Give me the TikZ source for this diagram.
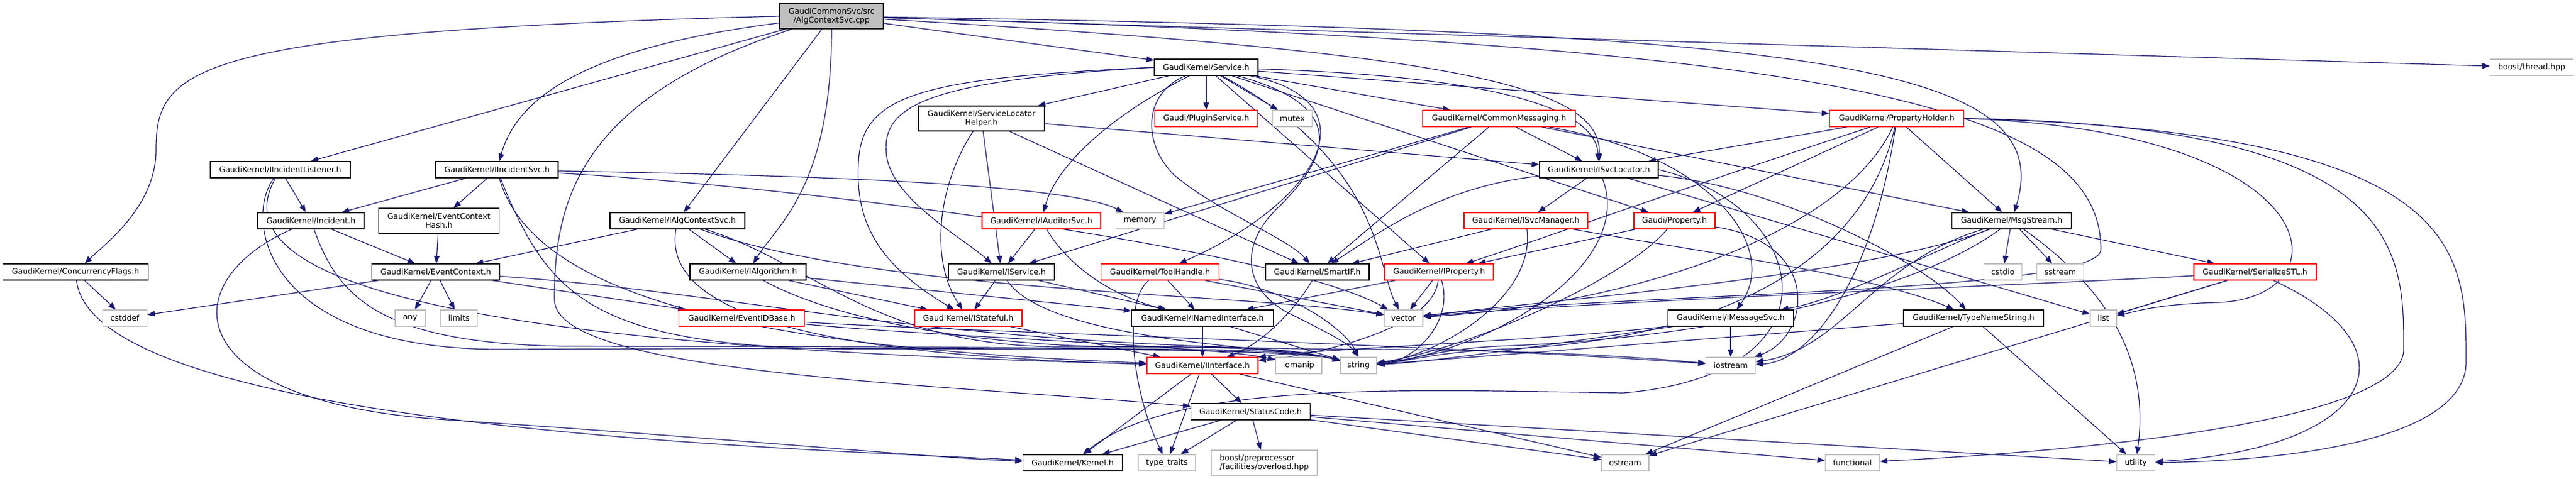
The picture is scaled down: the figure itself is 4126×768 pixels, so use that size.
\documentclass[tikz,border=0pt]{standalone}
\usepackage{fontspec}
\setmainfont{DejaVu Sans}
\usetikzlibrary{arrows.meta,backgrounds}
\definecolor{edgeblue}{RGB}{25,25,112}
\definecolor{sysgray}{RGB}{191,191,191}
\tikzset{
  box/.style={rectangle, draw=black, fill=white, line width=1.2pt, inner xsep=3pt,
    inner ysep=0pt, minimum height=26pt, align=center},
  redbox/.style={box, draw=red},
  sysbox/.style={box, draw=sysgray},
  rootbox/.style={box, fill=sysgray},
  dep/.style={draw=edgeblue, line width=1.2pt, -{Triangle[length=12pt,width=9pt]}},
}
\begin{document}
\begin{tikzpicture}[x=1pt, y=-1pt, font=\fontsize{12.5}{14}\selectfont]
    \useasboundingbox (0,0) rectangle (4126,768);
    %% Root file
    \node[rootbox, minimum width=166pt, minimum height=40pt] (main) at (1332,26) {GaudiCommonSvc/src\\/AlgContextSvc.cpp};
    %% Rank 1
    \node[box, minimum width=166pt] (service) at (1932,108) {GaudiKernel/Service.h};
    \node[sysbox, minimum width=133pt] (thread) at (4055,108) {boost/thread.hpp};
    %% Rank 2
    \node[box, minimum width=202pt, minimum height=40pt] (slh) at (1572,190) {GaudiKernel/ServiceLocator\\Helper.h};
    \node[redbox, minimum width=165pt] (plugin) at (1932,190) {Gaudi/PluginService.h};
    \node[sysbox, minimum width=63pt] (mutex) at (2070,190) {mutex};
    \node[redbox, minimum width=245pt] (commsg) at (2401,190) {GaudiKernel/CommonMessaging.h};
    \node[redbox, minimum width=215pt] (propholder) at (3038,190) {GaudiKernel/PropertyHolder.h};
    %% Rank 3
    \node[box, minimum width=224pt] (incl) at (449,272) {GaudiKernel/IIncidentListener.h};
    \node[box, minimum width=196pt] (incsvc) at (796,272) {GaudiKernel/IIncidentSvc.h};
    \node[box, minimum width=190pt] (svcloc) at (2561,272) {GaudiKernel/ISvcLocator.h};
    %% Rank 4
    \node[box, minimum width=170pt] (incident) at (498,354) {GaudiKernel/Incident.h};
    \node[box, minimum width=193pt, minimum height=40pt] (ech) at (703,354) {GaudiKernel/EventContext\\Hash.h};
    \node[box, minimum width=216pt] (algctx) at (1085,354) {GaudiKernel/IAlgContextSvc.h};
    \node[redbox, minimum width=190pt] (auditor) at (1668,354) {GaudiKernel/IAuditorSvc.h};
    \node[sysbox, minimum width=77pt] (memory) at (1826,354) {memory};
    \node[redbox, minimum width=198pt] (svcmgr) at (2444,354) {GaudiKernel/ISvcManager.h};
    \node[redbox, minimum width=130pt] (property) at (2682,354) {Gaudi/Property.h};
    \node[box, minimum width=191pt] (msgstream) at (3222,354) {GaudiKernel/MsgStream.h};
    %% Rank 5
    \node[box, minimum width=233pt] (conc) at (121,436) {GaudiKernel/ConcurrencyFlags.h};
    \node[box, minimum width=205pt] (evctx) at (698,436) {GaudiKernel/EventContext.h};
    \node[box, minimum width=186pt] (ialg) at (1198,436) {GaudiKernel/IAlgorithm.h};
    \node[box, minimum width=170pt] (iservice) at (1604,436) {GaudiKernel/IService.h};
    \node[redbox, minimum width=189pt] (toolhandle) at (1858,436) {GaudiKernel/ToolHandle.h};
    \node[box, minimum width=166pt] (smartif) at (2110,436) {GaudiKernel/SmartIF.h};
    \node[redbox, minimum width=174pt] (iproperty) at (2305,436) {GaudiKernel/IProperty.h};
    \node[sysbox, minimum width=61pt] (cstdio) at (3208,436) {cstdio};
    \node[sysbox, minimum width=75pt] (sstream) at (3300,436) {sstream};
    \node[redbox, minimum width=196pt] (serial) at (3612,436) {GaudiKernel/SerializeSTL.h};
    %% Rank 6
    \node[sysbox, minimum width=71pt] (cstddef) at (200,510) {cstddef};
    \node[sysbox, minimum width=48pt] (any) at (657,510) {any};
    \node[sysbox, minimum width=59pt] (limits) at (735,510) {limits};
    \node[redbox, minimum width=201pt] (evidbase) at (1188,510) {GaudiKernel/EventIDBase.h};
    \node[redbox, minimum width=172pt] (istateful) at (1551,510) {GaudiKernel/IStateful.h};
    \node[box, minimum width=227pt] (inamed) at (1926,510) {GaudiKernel/INamedInterface.h};
    \node[sysbox, minimum width=62pt] (vector) at (2248,510) {vector};
    \node[box, minimum width=201pt] (imsgsvc) at (2772,510) {GaudiKernel/IMessageSvc.h};
    \node[box, minimum width=224pt] (typename) at (3161,510) {GaudiKernel/TypeNameString.h};
    \node[sysbox, minimum width=42pt] (list) at (3369,510) {list};
    %% Rank 7
    \node[redbox, minimum width=178pt] (iinterface) at (1926,586) {GaudiKernel/IInterface.h};
    \node[sysbox, minimum width=74pt] (iomanip) at (2080,586) {iomanip};
    \node[sysbox, minimum width=58pt] (string) at (2176,586) {string};
    \node[sysbox, minimum width=79pt] (iostream) at (2772,586) {iostream};
    %% Rank 8
    \node[box, minimum width=191pt] (statuscode) at (2003,660) {GaudiKernel/StatusCode.h};
    %% Rank 9
    \node[box, minimum width=159pt] (kernel) at (1718,742) {GaudiKernel/Kernel.h};
    \node[sysbox, minimum width=92pt] (typetraits) at (1869,742) {type\_traits};
    \node[sysbox, minimum width=170pt, minimum height=40pt, align=left] (boostpp) at (2025,742) {boost/preprocessor\\/facilities/overload.hpp};
    \node[sysbox, minimum width=76pt] (ostream) at (2603,742) {ostream};
    \node[sysbox, minimum width=87pt] (functional) at (2967,742) {functional};
    \node[sysbox, minimum width=61pt] (utility) at (3421,742) {utility};

    \begin{scope}[on background layer]
        %% Root file
        \draw[dep] (main.west) .. controls (300,50) and (250,110) .. (250,240)
            .. controls (250,330) and (170,390) .. (conc);
        \draw[dep] (main) -- (incl);
        \draw[dep] (main) .. controls (950,75) and (830,150) .. (incsvc);
        \draw[dep] (main) -- (algctx);
        \draw[dep] (main) .. controls (1332,300) and (1245,360) .. (ialg);
        \draw[dep] (main) .. controls (920,160) and (888,330) .. (888,480)
            .. controls (888,600) and (1500,615) .. (statuscode);
        \draw[dep] (main) -- (service);
        \draw[dep] (main) .. controls (2350,85) and (2565,140) .. (svcloc);
        \draw[dep] (main) .. controls (2900,50) and (3300,100) .. (msgstream);
        \draw[dep] (main) .. controls (2950,70) and (3365,170) .. (3365,400)
            .. controls (3365,470) and (2600,470) .. (vector);
        \draw[dep] (main) -- (thread);
        %% ConcurrencyFlags
        \draw[dep] (conc) -- (cstddef);
        \draw[dep] (conc) .. controls (150,690) and (1300,720) .. (kernel);
        %% IIncidentListener
        \draw[dep] (incl) -- (incident);
        \draw[dep] (incl) .. controls (330,480) and (900,560) .. (iinterface);
        \draw[dep] (incl) .. controls (390,350) and (420,560) .. (800,560)
            .. controls (1400,558) and (2060,555) .. (string);
        %% Incident
        \draw[dep] (incident) -- (evctx);
        \draw[dep] (incident) .. controls (280,450) and (280,640) .. (700,672)
            .. controls (1200,705) and (1500,735) .. (kernel);
        \draw[dep] (incident) .. controls (540,470) and (600,550) .. (900,555)
            .. controls (1400,556) and (2060,555) .. (string);
        %% IIncidentSvc
        \draw[dep] (incsvc) -- (incident);
        \draw[dep] (incsvc) -- (ech);
        \draw[dep] (incsvc) .. controls (1200,280) and (1700,290) .. (memory);
        \draw[dep] (incsvc) .. controls (860,500) and (1300,560) .. (iinterface);
        \draw[dep] (incsvc) .. controls (880,480) and (950,560) .. (1400,560)
            .. controls (1800,560) and (2060,555) .. (string);
        \draw[dep] (incsvc) .. controls (1300,300) and (2050,400) .. (vector);
        %% EventContextHash
        \draw[dep] (ech) -- (evctx);
        %% IAlgContextSvc
        \draw[dep] (algctx) -- (evctx);
        \draw[dep] (algctx) -- (ialg);
        \draw[dep] (algctx) .. controls (1060,500) and (1300,570) .. (iinterface);
        \draw[dep] (algctx) .. controls (1400,470) and (2000,470) .. (vector);
        \draw[dep] (algctx) .. controls (1300,420) and (1400,556) .. (1700,556)
            .. controls (1900,556) and (2060,555) .. (string);
        %% IAlgorithm
        \draw[dep] (ialg) -- (istateful);
        \draw[dep] (ialg) -- (inamed);
        \draw[dep] (ialg) .. controls (1350,520) and (1600,556) .. (1800,556)
            .. controls (1950,556) and (2060,555) .. (string);
        %% EventContext
        \foreach \t in {cstddef,any,limits,evidbase}
            \draw[dep] (evctx) -- (\t);
        \draw[dep] (evctx) .. controls (1200,470) and (1500,560) .. (2200,560)
            .. controls (2500,562) and (2650,575) .. (iostream);
        %% EventIDBase
        \draw[dep] (evidbase) .. controls (1500,540) and (1950,555) .. (iomanip);
        \draw[dep] (evidbase) .. controls (1500,530) and (2300,552) .. (iostream);
        %% Service
        \foreach \t in {slh,plugin,mutex,commsg,propholder,property,iproperty}
            \draw[dep] (service) -- (\t);
        \draw[dep] (service) .. controls (1770,190) and (1690,270) .. (auditor);
        \draw[dep] (service) .. controls (2330,120) and (2555,160) .. (svcloc);
        \draw[dep] (service.west) .. controls (1480,130) and (1410,170) .. (1420,250)
            .. controls (1430,320) and (1540,380) .. (iservice);
        \draw[dep] (service.west) .. controls (1480,125) and (1380,150) .. (1375,260)
            .. controls (1370,350) and (1400,420) .. (istateful);
        \draw[dep] (service) .. controls (2200,160) and (2120,320) .. (toolhandle);
        \draw[dep] (service) .. controls (1830,150) and (1830,230) .. (1880,280)
            .. controls (1950,340) and (2060,380) .. (smartif);
        \draw[dep] (service) .. controls (2160,170) and (2130,250) .. (2050,330)
            .. controls (1985,390) and (1990,460) .. (2060,500)
            .. controls (2120,530) and (2160,550) .. (string.north);
        \draw[dep] (service) .. controls (2215,260) and (2205,430) .. (vector);
        %% ServiceLocatorHelper
        \foreach \t in {svcloc,iservice,smartif}
            \draw[dep] (slh) -- (\t);
        \draw[dep] (slh) .. controls (1500,300) and (1490,420) .. (istateful);
        %% IAuditorSvc
        \draw[dep] (auditor) -- (iservice);
        \draw[dep] (auditor) .. controls (1720,440) and (1800,480) .. (inamed);
        %% IService
        \draw[dep] (iservice) -- (istateful);
        \draw[dep] (iservice) -- (inamed);
        \draw[dep] (iservice) .. controls (1680,550) and (2060,556) .. (string);
        %% IStateful
        \draw[dep] (istateful) -- (iinterface);
        %% ToolHandle
        \draw[dep] (toolhandle) .. controls (1800,480) and (1810,620) .. (typetraits);
        \draw[dep] (toolhandle) -- (inamed);
        \draw[dep] (toolhandle) -- (vector);
        \draw[dep] (toolhandle) .. controls (2050,460) and (2150,520) .. (string.north);
        %% SmartIF
        \draw[dep] (smartif) .. controls (2060,520) and (2000,560) .. (iinterface);
        %% IProperty
        \draw[dep] (iproperty) -- (inamed);
        \draw[dep] (iproperty) -- (vector);
        \draw[dep] (iproperty) .. controls (2295,530) and (2100,570) .. (iinterface);
        \draw[dep] (iproperty) .. controls (2330,520) and (2260,580) .. (string);
        %% INamedInterface
        \draw[dep] (inamed) -- (iinterface);
        \draw[dep] (inamed) -- (string);
        %% IInterface
        \foreach \t in {kernel,typetraits,statuscode,ostream}
            \draw[dep] (iinterface) -- (\t);
        %% StatusCode
        \foreach \t in {kernel,typetraits,boostpp,ostream,functional,utility}
            \draw[dep] (statuscode) -- (\t);
        %% CommonMessaging
        \foreach \t in {memory,iservice,smartif,svcloc,msgstream}
            \draw[dep] (commsg) -- (\t);
        \draw[dep] (commsg) .. controls (2750,250) and (2850,400) .. (imsgsvc);
        %% ISvcLocator
        \draw[dep] (svcloc) -- (svcmgr);
        \draw[dep] (svcloc) .. controls (2300,300) and (2200,380) .. (smartif);
        \draw[dep] (svcloc) .. controls (2850,300) and (3080,420) .. (typename);
        \draw[dep] (svcloc) .. controls (2620,420) and (2400,560) .. (string);
        \draw[dep] (svcloc) -- (list);
        \draw[dep] (svcloc.east) .. controls (2900,330) and (2960,600) .. (2600,630)
            .. controls (2250,625) and (1880,610) .. (kernel);
        %% ISvcManager
        \draw[dep] (svcmgr) -- (smartif);
        \draw[dep] (svcmgr) .. controls (2460,480) and (2300,570) .. (string);
        \draw[dep] (svcmgr) .. controls (2700,400) and (3000,440) .. (typename);
        %% Property
        \draw[dep] (property) -- (iproperty);
        \draw[dep] (property) .. controls (2600,450) and (2350,560) .. (string);
        \draw[dep] (property) .. controls (2920,390) and (2900,540) .. (iostream);
        %% PropertyHolder
        \draw[dep] (propholder) -- (svcloc);
        \draw[dep] (propholder) -- (property);
        \draw[dep] (propholder) .. controls (2700,300) and (2450,390) .. (iproperty);
        \draw[dep] (propholder) -- (msgstream);
        \draw[dep] (propholder) .. controls (2980,450) and (2700,550) .. (2400,560)
            .. controls (2300,565) and (2250,580) .. (string);
        \draw[dep] (propholder) .. controls (2950,380) and (2600,490) .. (vector);
        \draw[dep] (propholder) .. controls (3000,450) and (2900,580) .. (iostream);
        \draw[dep] (propholder.east) .. controls (3850,200) and (3850,400) .. (3850,560)
            .. controls (3850,700) and (3100,735) .. (functional);
        \draw[dep] (propholder.east) .. controls (3950,210) and (3950,400) .. (3950,580)
            .. controls (3950,720) and (3600,740) .. (utility);
        \draw[dep] (propholder.east) .. controls (3740,210) and (3760,480) .. (3550,485)
            .. controls (3450,488) and (3420,500) .. (list);
        %% MsgStream
        \draw[dep] (msgstream) .. controls (3100,400) and (2950,480) .. (imsgsvc);
        \foreach \t in {cstdio,sstream,serial}
            \draw[dep] (msgstream) -- (\t);
        \draw[dep] (msgstream) .. controls (3000,420) and (2950,560) .. (iostream);
        \draw[dep] (msgstream) .. controls (3050,480) and (2700,545) .. (2400,555)
            .. controls (2300,560) and (2250,580) .. (string);
        \draw[dep] (msgstream) .. controls (3000,440) and (2500,480) .. (vector);
        \draw[dep] (msgstream) .. controls (3400,480) and (3440,600) .. (utility);
        %% IMessageSvc
        \draw[dep] (imsgsvc) -- (iostream);
        \draw[dep] (imsgsvc) .. controls (2500,545) and (2100,560) .. (iinterface);
        \draw[dep] (imsgsvc) .. controls (2500,550) and (2300,580) .. (string);
        %% TypeNameString
        \draw[dep] (typename) .. controls (2900,530) and (2400,570) .. (string);
        \draw[dep] (typename) -- (ostream);
        \draw[dep] (typename) -- (utility);
        %% SerializeSTL
        \draw[dep] (serial) -- (list);
        \draw[dep] (serial) .. controls (3300,455) and (2600,480) .. (vector);
        \draw[dep] (serial) -- (ostream);
        \draw[dep] (serial) .. controls (3880,560) and (3800,720) .. (utility);
    \end{scope}
\end{tikzpicture}
\end{document}
